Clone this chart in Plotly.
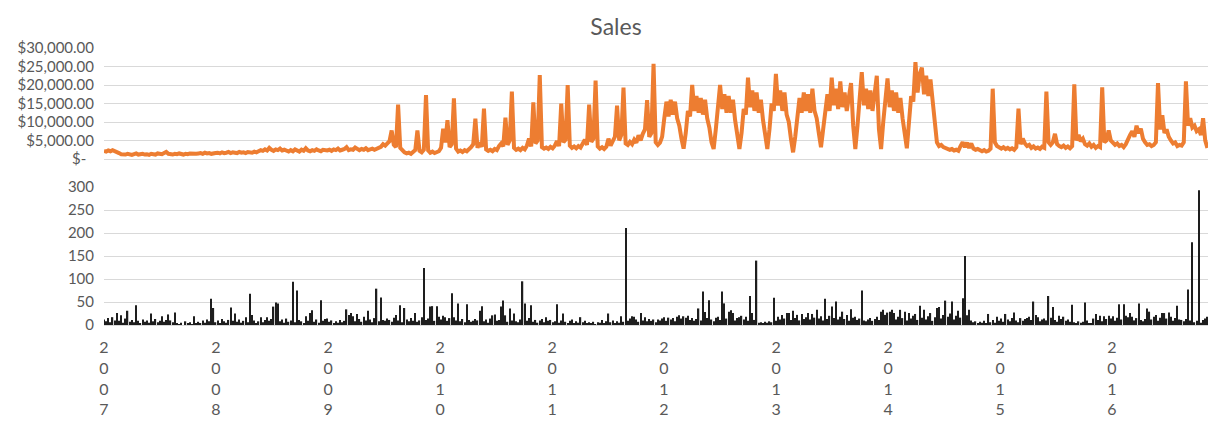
import pandas as pd
import plotly.graph_objects as go

# ---------------- data ----------------
# Weekly sales, in thousands of dollars, one list per ~calendar year
sales_k_2007 = [2.2, 2.0, 2.3, 2.1, 2.4, 2.2, 2.0, 1.6, 1.3, 1.2,
                1.2, 1.4, 1.3, 1.1, 1.3, 1.5, 1.2, 1.3, 1.4, 1.2,
                1.3, 1.1, 1.4, 1.3, 1.2, 1.5, 1.4, 1.3, 1.6, 1.9,
                1.4, 1.3, 1.2, 1.4, 1.3, 1.5, 1.3, 1.2, 1.4, 1.3,
                1.5, 1.4, 1.3, 1.4, 1.5, 1.6, 1.4, 1.7, 1.5, 1.6,
                1.4, 1.6]
sales_k_2008 = [1.6, 1.7, 1.5, 1.8, 1.6, 1.7, 1.9, 1.6, 1.8, 1.7,
                1.6, 1.9, 1.7, 1.8, 1.6, 1.9, 1.8, 1.7, 2.0, 1.8,
                2.1, 2.4, 2.2, 2.6, 2.3, 3.0, 2.5, 2.2, 2.6, 2.4,
                2.8, 2.3, 2.5, 2.2, 2.0, 2.4, 2.1, 2.6, 2.3, 2.0,
                2.5, 2.2, 2.9, 2.3, 2.1, 2.4, 2.2, 2.6, 2.3, 2.1,
                2.5, 2.3]
sales_k_2009 = [2.3, 2.5, 2.2, 2.6, 2.4, 2.8, 2.3, 2.5, 2.7, 3.2,
                2.4, 2.6, 2.5, 3.1, 2.6, 2.4, 2.7, 2.5, 2.9, 2.4,
                2.6, 2.8, 2.5, 2.7, 2.9, 3.3, 4.0, 3.6, 4.2, 4.8,
                7.7, 3.8, 3.2, 14.7, 3.0, 2.2, 1.8, 1.5, 1.7, 1.4,
                1.9, 2.4, 7.7, 2.2, 1.8, 2.5, 17.3, 2.3, 1.7, 2.0,
                1.6, 1.9]
sales_k_2010 = [2.1, 3.0, 8.2, 4.5, 10.5, 3.2, 4.0, 16.4, 2.8, 2.0,
                2.3, 1.9, 2.4, 2.1, 2.6, 3.2, 4.0, 10.9, 3.0, 4.5,
                3.3, 13.6, 2.6, 2.2, 2.5, 2.1, 2.7, 2.4, 3.5, 4.2,
                3.4, 11.2, 3.8, 5.0, 18.2, 3.0, 2.5, 2.8, 2.4, 3.0,
                2.6, 3.6, 5.5, 3.4, 15.3, 4.2, 5.0, 22.7, 3.2, 2.8,
                3.1, 2.7]
sales_k_2011 = [3.3, 2.9, 3.6, 4.8, 3.5, 15.0, 4.5, 5.2, 20.0, 3.6,
                3.0, 3.4, 2.9, 3.5, 3.1, 4.0, 5.2, 3.8, 14.7, 4.6,
                5.5, 21.2, 3.4, 2.8, 3.2, 2.7, 3.3, 5.5, 3.6, 4.8,
                6.0, 14.4, 5.0, 6.5, 19.3, 4.2, 3.8, 4.6, 4.0, 5.2,
                4.4, 6.4, 5.0, 6.8, 8.0, 15.9, 6.0, 7.0, 25.7, 4.5,
                3.8, 4.4]
sales_k_2012 = [6.0, 11.0, 15.5, 11.5, 16.0, 12.0, 15.5, 11.0, 9.0, 5.5,
                2.8,
                7.0, 13.0, 11.5, 20.0, 13.0, 17.0, 12.5, 16.5, 12.0, 16.0, 11.0, 8.5, 4.5,
                2.7,
                8.0, 14.0, 20.0, 13.5, 17.5, 12.5, 17.0, 12.5, 16.0, 10.5, 6.5,
                2.7,
                7.0, 13.5, 12.0, 22.0, 14.0, 18.5, 13.0, 18.0, 12.5, 16.0, 10.5, 6.0,
                2.7,
                8.0, 15.0]
sales_k_2013 = [13.0, 23.0, 14.5, 18.5, 13.0, 18.0, 12.0, 10.0, 5.5,
                1.8,
                6.0, 12.0, 16.5, 12.5, 18.0, 13.0, 17.5, 12.5, 19.0, 13.0, 11.0, 7.0,
                3.2,
                8.0, 14.0, 17.5, 13.0, 22.0, 14.5, 19.0, 13.5, 21.0, 14.0, 18.0, 13.0,
                17.5, 20.5, 9.0,
                2.7,
                9.0, 16.0, 23.5, 14.5, 19.0, 13.5, 18.5, 13.0, 17.5, 22.5, 8.0,
                2.7,
                10.0]
sales_k_2014 = [16.0, 21.8, 14.0, 18.5, 13.0, 18.0, 12.5, 16.5, 11.0, 7.0,
                2.9,
                10.0, 17.0, 15.5, 26.2, 18.0, 23.0, 24.7, 17.5, 22.5, 17.0, 21.5, 16.0, 9.0,
                4.5, 3.5, 3.8, 3.2, 3.0, 2.8, 2.5, 2.7, 2.3, 2.5,
                2.2, 3.5, 4.5, 3.2, 4.4, 3.0, 4.2, 2.8, 2.5, 2.7,
                2.3, 2.1, 2.4, 2.0, 2.2, 2.8, 19.0, 4.5]
sales_k_2015 = [3.5, 3.0, 2.8, 3.2, 2.7, 3.0, 2.6, 2.9, 2.5, 3.2,
                13.6, 4.0, 5.5, 4.2, 3.5, 3.8, 3.0, 3.4, 2.8, 3.1,
                2.7, 3.3, 3.0, 18.2, 4.5, 3.8, 4.5, 6.8, 4.0, 3.5,
                3.2, 3.6, 3.0, 3.4, 2.9, 3.5, 20.2, 5.0, 6.5, 4.8,
                5.5, 4.0, 3.6, 4.2, 3.3, 3.8, 3.0, 3.5, 3.2, 19.4,
                4.5, 5.0]
sales_k_2016 = [7.7, 5.0, 4.5, 3.8, 4.2, 3.5, 3.8, 3.2, 4.0, 5.5,
                6.5, 7.5, 6.0, 9.0, 7.0, 8.2, 5.5, 4.5, 3.8, 4.0,
                3.5, 3.8, 4.5, 20.5, 8.0, 11.8, 7.0, 8.0, 6.0, 5.0,
                4.2, 4.5, 3.5, 3.8, 3.6, 4.5, 21.0, 9.0, 11.0, 8.5,
                9.0, 7.5, 8.0, 6.5, 11.0, 5.0, 3.0]

# Weekly quantity (bottom panel)
qty_2007 = [12, 8, 15, 6, 17, 10, 26, 9, 21, 5,
            14, 31, 7, 11, 6, 43, 9, 4, 12, 7,
            10, 5, 25, 8, 13, 6, 9, 19, 7, 11,
            23, 10, 6, 27, 3, 2, 5, 0, 8, 3,
            6, 2, 19, 4, 7, 3, 10, 5, 12, 8,
            57, 37]
qty_2008 = [6, 10, 4, 13, 8, 5, 11, 38, 9, 25,
            7, 12, 5, 9, 17, 6, 68, 22, 10, 4,
            8, 17, 6, 11, 17, 9, 13, 40, 49, 47,
            8, 12, 5, 14, 7, 10, 94, 6, 75, 11,
            8, 4, 19, 9, 26, 32, 7, 12, 5, 54,
            9, 13]
qty_2009 = [14, 7, 10, 3, 8, 5, 11, 6, 9, 34,
            22, 26, 19, 8, 24, 13, 7, 18, 10, 31,
            12, 6, 15, 79, 8, 60, 11, 9, 14, 11,
            7, 16, 22, 10, 43, 6, 37, 12, 8, 15,
            9, 26, 7, 10, 17, 124, 11, 14, 40, 41,
            9, 41]
qty_2010 = [18, 12, 20, 17, 9, 15, 69, 17, 10, 47,
            8, 13, 6, 45, 11, 7, 9, 13, 10, 31,
            41, 8, 12, 5, 14, 21, 23, 9, 11, 40,
            53, 21, 7, 36, 10, 25, 8, 6, 12, 95,
            47, 9, 15, 43, 7, 11, 5, 10, 13, 6,
            17, 9]
qty_2011 = [11, 6, 8, 45, 5, 10, 25, 7, 4, 9,
            12, 3, 8, 5, 17, 6, 9, 4, 6, 3,
            7, 2, 6, 5, 11, 4, 8, 25, 6, 10,
            3, 8, 5, 19, 7, 211, 9, 14, 19, 18,
            12, 7, 26, 10, 17, 8, 13, 9, 12, 6,
            12, 10]
qty_2012 = [14, 17, 9, 16, 12, 15, 8, 18, 21, 14,
            19, 16, 20, 11, 15, 9, 13, 36, 10, 73,
            28, 15, 54, 12, 8, 16, 18, 11, 73, 47,
            14, 29, 32, 26, 10, 15, 17, 20, 12, 18,
            9, 63, 26, 11, 140, 5, 6, 4, 7, 5,
            8, 6]
qty_2013 = [59, 9, 18, 12, 22, 14, 26, 26, 11, 31,
            15, 22, 10, 24, 13, 17, 26, 12, 24, 16,
            33, 14, 19, 10, 57, 13, 20, 40, 15, 51,
            12, 18, 29, 13, 22, 9, 34, 16, 18, 11,
            14, 75, 10, 8, 12, 15, 9, 13, 18, 11,
            29, 33]
qty_2014 = [22, 27, 29, 33, 26, 12, 18, 33, 15, 29,
            10, 26, 14, 20, 24, 11, 42, 16, 33, 12,
            19, 26, 9, 17, 37, 39, 14, 22, 53, 18,
            25, 51, 12, 20, 31, 16, 58, 150, 21, 33,
            10, 6, 8, 3, 7, 5, 9, 4, 24, 6,
            11, 5]
qty_2015 = [18, 9, 14, 7, 24, 12, 8, 15, 27, 10,
            6, 15, 9, 13, 15, 18, 11, 51, 22, 17,
            8, 12, 14, 10, 63, 16, 39, 11, 7, 20,
            13, 18, 9, 12, 7, 44, 6, 4, 8, 5,
            7, 49, 10, 4, 3, 14, 24, 11, 20, 8,
            19, 13]
qty_2016 = [20, 14, 19, 9, 16, 45, 12, 45, 20, 17,
            26, 18, 10, 15, 47, 11, 8, 13, 36, 29,
            12, 18, 22, 9, 16, 26, 26, 14, 27, 18,
            9, 15, 42, 12, 11, 8, 13, 77, 10, 180,
            6, 9, 293, 5, 11, 14, 18]

years = [2007, 2008, 2009, 2010, 2011, 2012, 2013, 2014, 2015, 2016]
sales_tick_vals = [0, 5000, 10000, 15000, 20000, 25000, 30000]
sales_tick_text = ["$-\u00a0\u00a0", "$5,000.00", "$10,000.00", "$15,000.00",
                   "$20,000.00", "$25,000.00", "$30,000.00"]
qty_tick_vals = [0, 50, 100, 150, 200, 250, 300]

# ---------------- assemble ----------------
sales_k = (sales_k_2007 + sales_k_2008 + sales_k_2009 + sales_k_2010 + sales_k_2011
           + sales_k_2012 + sales_k_2013 + sales_k_2014 + sales_k_2015 + sales_k_2016)
sales = [v * 1000 for v in sales_k]
qty = (qty_2007 + qty_2008 + qty_2009 + qty_2010 + qty_2011
       + qty_2012 + qty_2013 + qty_2014 + qty_2015 + qty_2016)
weeks = pd.date_range("2007-01-01", periods=len(sales), freq="7D")

year_tick_vals = [f"{y}-01-01" for y in years]
year_tick_text = ["<br>".join(str(y)) for y in years]

GRID = "#d9d9d9"
TXT = "#595959"
FONT = "Lato"

fig = go.Figure()
fig.add_trace(go.Scatter(x=weeks, y=sales, mode="lines",
                         line=dict(color="#ED7D31", width=4),
                         xaxis="x", yaxis="y", name="Sales"))
fig.add_trace(go.Bar(x=weeks, y=qty,
                     marker=dict(color="#1e1e1e", line=dict(width=0)),
                     xaxis="x2", yaxis="y2", name="Quantity"))

x_range = ["2007-01-01", "2016-11-09"]
fig.update_layout(
    width=1208, height=421,
    margin=dict(l=104, r=0, t=48, b=96),
    paper_bgcolor="white", plot_bgcolor="white",
    showlegend=False,
    bargap=0.4,
    font=dict(family=FONT, color=TXT),
    title=dict(text="Sales", x=616 / 1208, xref="container", xanchor="center",
               y=1 - 27 / 421, yref="container", yanchor="middle",
               font=dict(size=23, color=TXT, family=FONT)),
    xaxis=dict(domain=[0, 1], anchor="y", range=x_range, showticklabels=False,
               showgrid=False, zeroline=False, showline=False, matches="x2"),
    yaxis=dict(domain=[166 / 277, 1], anchor="x", range=[0, 30000],
               tickvals=sales_tick_vals, ticktext=sales_tick_text,
               showgrid=True, gridcolor=GRID, gridwidth=1,
               zeroline=True, zerolinecolor=GRID, zerolinewidth=1,
               showline=False, ticklabelstandoff=9,
               tickfont=dict(size=15, color=TXT, family=FONT)),
    xaxis2=dict(domain=[0, 1], anchor="y2", range=x_range,
                tickvals=year_tick_vals, ticktext=year_tick_text,
                showgrid=False, zeroline=False, showline=False,
                ticklabelstandoff=11,
                tickfont=dict(size=16, color=TXT, family=FONT)),
    yaxis2=dict(domain=[0, 138 / 277], anchor="x2", range=[0, 300],
                tickvals=qty_tick_vals,
                showgrid=True, gridcolor=GRID, gridwidth=1,
                zeroline=True, zerolinecolor=GRID, zerolinewidth=1,
                showline=False, ticklabelstandoff=9,
                tickfont=dict(size=15, color=TXT, family=FONT)),
)

fig.write_html("out.html", config={"displayModeBar": False},
               post_script="document.body.style.margin='0px';")
